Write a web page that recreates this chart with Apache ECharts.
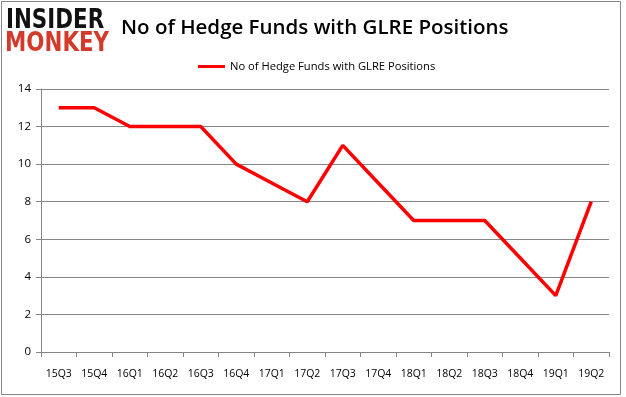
<!DOCTYPE html>
<html><head><meta charset="utf-8">
<script src="https://cdn.jsdelivr.net/npm/echarts@6/dist/echarts.min.js"></script>
<style>html,body{margin:0;padding:0;background:#fff}#c{width:626px;height:397px}</style>
</head><body><div id="c"></div>
<script>
const categories = ['15Q3','15Q4','16Q1','16Q2','16Q3','16Q4','17Q1','17Q2','17Q3','17Q4','18Q1','18Q2','18Q3','18Q4','19Q1','19Q2'];
const hedgeFunds = [13,13,12,12,12,10,9,8,11,9,7,7,7,5,3,8];
const seriesName = 'No of Hedge Funds with GLRE Positions';
const titleText = 'No of Hedge Funds with GLRE Positions';

const chart = echarts.init(document.getElementById('c'), null, {renderer:'canvas'});
chart.setOption({
  animation:false,
  backgroundColor:'#fff',
  title:{text:titleText,left:116,top:13,textStyle:{fontFamily:'Open Sans',fontSize:20.5,fontWeight:600,color:'#000'}},
  legend:{data:[seriesName],top:56,left:193,itemWidth:27,itemHeight:3,icon:'rect',itemGap:4,
    textStyle:{fontFamily:'Open Sans',fontSize:11.2,color:'#000'}},
  grid:{left:41,right:17,top:89,bottom:45,containLabel:false},
  xAxis:{type:'category',data:categories,boundaryGap:true,
    axisLine:{lineStyle:{color:'#868686',width:1}},
    axisTick:{show:true,length:5,lineStyle:{color:'#868686'},alignWithLabel:false},
    axisLabel:{interval:0,fontFamily:'Open Sans',fontSize:10.5,color:'#000',margin:17}},
  yAxis:{type:'value',min:0,max:14,interval:2,
    axisLine:{show:true,lineStyle:{color:'#868686'}},
    axisTick:{show:true,length:5,inside:false,lineStyle:{color:'#868686'}},
    splitLine:{lineStyle:{color:'#868686',width:1}},
    axisLabel:{fontFamily:'Open Sans',fontSize:11.5,color:'#000',margin:10}},
  series:[{name:seriesName,type:'line',data:hedgeFunds,symbol:'none',
    lineStyle:{color:'#ff0000',width:3.5},itemStyle:{color:'#ff0000'}}],
  graphic:[
    {type:'rect',shape:{x:1.5,y:1.5,width:619,height:393},style:{fill:null,stroke:'#868686',lineWidth:1},silent:true},
    {type:'text',x:6,y:8,scaleX:1.07,scaleY:1.3,style:{text:'INSIDER',fontFamily:'DejaVu Sans',fontWeight:'900',fontSize:20,fill:'#111'}},
    {type:'text',x:5,y:31,scaleX:1.07,scaleY:1.3,style:{text:'MONKEY',fontFamily:'DejaVu Sans',fontWeight:'900',fontSize:20,fill:'#d33a2a'}}
  ]
});
</script></body></html>
